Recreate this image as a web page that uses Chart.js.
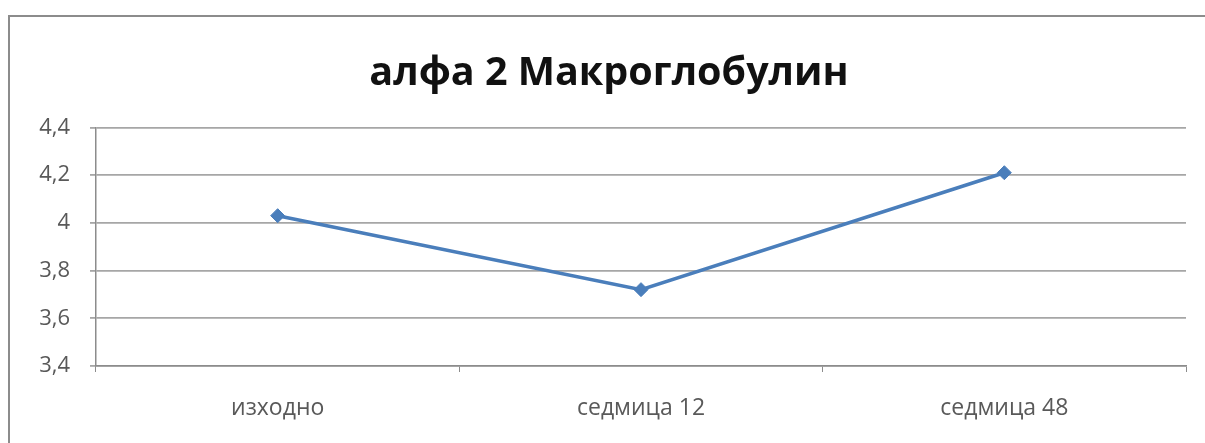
<!DOCTYPE html>
<html>
<head>
<meta charset="utf-8">
<script src="https://cdn.jsdelivr.net/npm/chart.js@4.4.1/dist/chart.umd.min.js"></script>
<style>
  html, body { margin: 0; padding: 0; background: #fff; overflow: hidden; }
  #wrap { position: absolute; left: 0; top: 0; width: 1205px; height: 443px; overflow: hidden; }
  #frame { position: absolute; left: 8px; top: 15px; width: 1400px; height: 600px;
           border-top: 2px solid #8c8c8c; border-left: 2px solid #8c8c8c; }
  canvas { position: absolute; left: 0; top: 0; }
</style>
</head>
<body>
<div id="wrap">
  <div id="frame"></div>
  <canvas id="c" width="1205" height="443"></canvas>
</div>
<script>
const titleText = 'алфа 2 Макроглобулин';
const categories = ['изходно', 'седмица 12', 'седмица 48'];
const values = [4.03, 3.72, 4.21];
const yMin = 3.4, yMax = 4.4, yStep = 0.2;

const fontFamily = '"Open Sans", "Noto Sans", "DejaVu Sans", sans-serif';

new Chart(document.getElementById('c'), {
  type: 'line',
  data: {
    labels: categories,
    datasets: [{
      data: values,
      borderColor: '#4a7ebb',
      backgroundColor: '#4a7ebb',
      borderWidth: 3.5,
      pointStyle: 'rectRot',
      pointRadius: 7,
      pointBorderWidth: 1,
      tension: 0,
      fill: false
    }]
  },
  options: {
    responsive: false,
    animation: false,
    layout: { padding: { left: 32, right: 19, top: 50, bottom: 0 } },
    plugins: {
      legend: { display: false },
      tooltip: { enabled: false },
      title: {
        display: true,
        text: titleText,
        color: '#111',
        font: { family: fontFamily, size: 39.5, weight: 'bold' },
        padding: { top: 0, bottom: 30 }
      }
    },
    scales: {
      x: {
        offset: true,
        grid: {
          offset: true,
          drawOnChartArea: false,
          drawTicks: true,
          tickLength: 6,
          color: '#8c8c8c'
        },
        border: { display: true, color: '#8c8c8c', width: 1.5 },
        ticks: {
          color: '#595959',
          font: { family: fontFamily, size: 23 },
          padding: 23,
          maxRotation: 0
        },
        afterFit: s => { s.height = 77; }
      },
      y: {
        min: yMin,
        max: yMax,
        grid: {
          color: '#a6a6a6',
          lineWidth: 1.8,
          tickLength: 6
        },
        border: { display: true, color: '#8c8c8c', width: 1.5 },
        ticks: {
          stepSize: yStep,
          color: '#595959',
          font: { family: fontFamily, size: 22 },
          padding: 20,
          callback: v => String(Math.round(v * 10) / 10).replace('.', ',')
        },
        afterFit: s => { s.width = 64; }
      }
    }
  }
});
</script>
</body>
</html>
